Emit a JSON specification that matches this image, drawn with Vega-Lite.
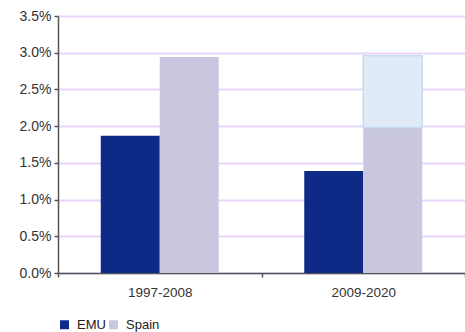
{
  "$schema": "https://vega.github.io/schema/vega-lite/v6.json",
  "width": 407,
  "height": 257,
  "autosize": "none",
  "padding": {"left": 58, "top": 16, "right": 0, "bottom": 59},
  "background": "white",
  "config": {
    "view": {"stroke": null},
    "font": "Liberation Sans",
    "axis": {"labelFont": "Liberation Sans", "labelColor": "#333333"},
    "axisY": {
      "title": null,
      "values": [0, 0.5, 1, 1.5, 2, 2.5, 3, 3.5],
      "labelOverlap": false,
      "labelFontSize": 14,
      "labelPadding": 3,
      "tickSize": 4,
      "tickColor": "#555555",
      "tickWidth": 1.5,
      "domainColor": "#555555",
      "domainWidth": 1.5,
      "grid": true,
      "gridColor": "#e8d6fb",
      "gridWidth": 2
    }
  },
  "datasets": {
    "growth": [
      {"period": "1997-2008", "series": "EMU", "value": 1.87},
      {"period": "1997-2008", "series": "Spain", "value": 2.94},
      {"period": "2009-2020", "series": "EMU", "value": 1.39},
      {"period": "2009-2020", "series": "Spain", "value": 1.98}
    ],
    "range": [
      {"period": "2009-2020", "series": "Spain", "low": 1.98, "high": 2.96}
    ]
  },
  "layer": [
    {
      "data": {"name": "growth"},
      "mark": {"type": "bar"},
      "encoding": {
        "x": {
          "field": "period",
          "type": "nominal",
          "scale": {"paddingInner": 0, "paddingOuter": 0},
          "axis": {
            "title": null,
            "labelAngle": 0,
            "labelFontSize": 13.5,
            "labelPadding": 8,
            "tickBand": "extent",
            "tickSize": 4,
            "tickColor": "#555555",
            "tickWidth": 1.5,
            "domainColor": "#555555",
            "domainWidth": 1.5,
            "grid": false
          }
        },
        "xOffset": {
          "field": "series",
          "type": "nominal",
          "scale": {"domain": ["EMU", "Spain"], "paddingInner": 0, "paddingOuter": 0.7246}
        },
        "y": {
          "field": "value",
          "type": "quantitative",
          "scale": {"domain": [0, 3.5], "nice": false},
          "axis": {
            "values": [0, 0.5, 1, 1.5, 2, 2.5, 3, 3.5],
            "labelExpr": "format(datum.value, '.1f') + '%'",
            "labelOverlap": false
          }
        },
        "color": {
          "field": "series",
          "type": "nominal",
          "scale": {"domain": ["EMU", "Spain"], "range": ["#0e2a87", "#c9c8e0"]},
          "legend": {
            "title": null,
            "orient": "none",
            "direction": "horizontal",
            "legendX": 0,
            "legendY": 302,
            "symbolType": "square",
            "symbolSize": 81,
            "symbolStrokeWidth": 0,
            "labelFontSize": 13,
            "labelColor": "#222222",
            "labelOffset": 6,
            "columnPadding": 1
          }
        }
      }
    },
    {
      "data": {"name": "range"},
      "mark": {"type": "bar", "color": "#e1ebf7", "stroke": "#c6dcf1", "strokeWidth": 1.5},
      "encoding": {
        "x": {"field": "period", "type": "nominal"},
        "xOffset": {"field": "series", "type": "nominal"},
        "y": {
          "field": "high",
          "type": "quantitative",
          "axis": {
            "values": [0, 0.5, 1, 1.5, 2, 2.5, 3, 3.5],
            "labelExpr": "format(datum.value, '.1f') + '%'",
            "labelOverlap": false
          }
        },
        "y2": {"field": "low"}
      }
    }
  ]
}
